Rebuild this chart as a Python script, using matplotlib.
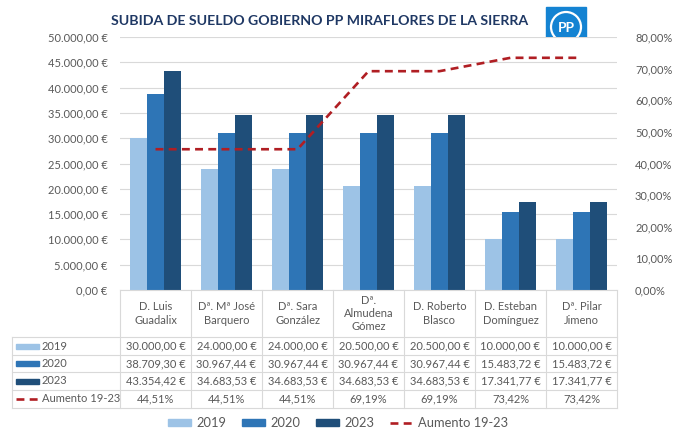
import matplotlib
matplotlib.use("Agg")
import matplotlib.pyplot as plt
import matplotlib.transforms as mtransforms
from matplotlib.patches import Rectangle, Ellipse
from matplotlib.lines import Line2D
import numpy as np

plt.rcParams['font.family'] = ['Lato', 'DejaVu Sans']

categories = ["D. Luis\nGuadalix", "Dª. Mª José\nBarquero", "Dª. Sara\nGonzález",
              "Dª.\nAlmudena\nGómez", "D. Roberto\nBlasco", "D. Esteban\nDomínguez",
              "Dª. Pilar\nJimeno"]
s2019 = [30000.00, 24000.00, 24000.00, 20500.00, 20500.00, 10000.00, 10000.00]
s2020 = [38709.30, 30967.44, 30967.44, 30967.44, 30967.44, 15483.72, 15483.72]
s2023 = [43354.42, 34683.53, 34683.53, 34683.53, 34683.53, 17341.77, 17341.77]
aumento = [44.51, 44.51, 44.51, 69.19, 69.19, 73.42, 73.42]
series_names = ["2019", "2020", "2023", "Aumento 19-23"]
title = "SUBIDA DE SUELDO GOBIERNO PP MIRAFLORES DE LA SIERRA"

c2019, c2020, c2023 = "#9DC3E6", "#2E75B6", "#1F4E79"
cline = "#B01E23"
txtc = "#595959"
gridc = "#D9D9D9"
line_lw = 1.9
line_dash = (3.0, 2.0)

W, H = 675, 429
fig = plt.figure(figsize=(W / 100, H / 100), dpi=100)
fig.patch.set_facecolor("white")

def fx(px):
    return px / W

def fy(py):
    return 1 - py / H

ax_l, ax_r, ax_t, ax_b = 120, 617, 37, 290
ax = fig.add_axes([fx(ax_l), fy(ax_b), fx(ax_r - ax_l), (ax_b - ax_t) / H])
ax2 = ax.twinx()

def eur(v):
    s = f"{v:,.2f}"
    s = s.replace(",", "X").replace(".", ",").replace("X", ".")
    return s + " €"

x = np.arange(len(categories))
bw = 0.24
ax.bar(x - bw, s2019, bw, color=c2019, zorder=3)
ax.bar(x, s2020, bw, color=c2020, zorder=3)
ax.bar(x + bw, s2023, bw, color=c2023, zorder=3)
ax.set_xlim(-0.5, len(categories) - 0.5)
ax.set_ylim(0, 50000)
yt = np.arange(0, 50001, 5000)
ax.set_yticks(yt)
ax.set_yticklabels([eur(v) for v in yt])
ax.grid(axis="y", color=gridc, lw=0.8, zorder=0)
ax.set_xticks([])
for sp in ax.spines.values():
    sp.set_visible(False)
ax.tick_params(axis="y", length=0, pad=9, labelsize=8, labelcolor=txtc)

ax2.plot(x, aumento, color=cline, lw=line_lw, dashes=line_dash, zorder=4)
ax2.set_ylim(0, 80)
pt = np.arange(0, 81, 10)
ax2.set_yticks(pt)
ax2.set_yticklabels([f"{v:.2f}%".replace(".", ",") for v in pt])
for sp in ax2.spines.values():
    sp.set_visible(False)
ax2.tick_params(axis="y", length=0, pad=13, labelsize=8, labelcolor=txtc)
ax.set_zorder(1)
ax2.set_zorder(2)
ax2.patch.set_visible(False)

# Data table (x from data coordinates, y in figure pixels)
trans = mtransforms.blended_transform_factory(ax.transData, fig.transFigure)
ftrans = fig.transFigure
rows_y = [290, 337, 355, 372, 390, 408]
lkw = dict(color=gridc, lw=0.8, clip_on=False)
for i in range(len(categories) + 1):
    xv = i - 0.5
    fig.add_artist(Line2D([xv, xv], [fy(rows_y[0]), fy(rows_y[-1])], transform=trans, **lkw))
for j, ry in enumerate(rows_y):
    if j == 0:
        fig.add_artist(Line2D([-0.5, len(categories) - 0.5], [fy(ry), fy(ry)], transform=trans, **lkw))
    else:
        fig.add_artist(Line2D([fx(12), fx(ax_r)], [fy(ry), fy(ry)], transform=ftrans, **lkw))
fig.add_artist(Line2D([fx(12), fx(12)], [fy(rows_y[1]), fy(rows_y[-1])], transform=ftrans, **lkw))

for i, c in enumerate(categories):
    fig.text(i, fy((rows_y[0] + rows_y[1]) / 2), c, transform=trans, ha="center",
             va="center", fontsize=8, color=txtc, linespacing=1.25)

table_rows = [
    [eur(v) for v in s2019],
    [eur(v) for v in s2020],
    [eur(v) for v in s2023],
    [f"{v:.2f}%".replace(".", ",") for v in aumento],
]
for r, vals in enumerate(table_rows):
    yc = fy((rows_y[r + 1] + rows_y[r + 2]) / 2)
    for i, v in enumerate(vals):
        fig.text(i, yc, v, transform=trans, ha="center", va="center", fontsize=8, color=txtc)

key_colors = [c2019, c2020, c2023]
for r in range(4):
    yc_px = (rows_y[r + 1] + rows_y[r + 2]) / 2
    if r < 3:
        fig.add_artist(Rectangle((fx(16), fy(yc_px + 2.5)), fx(23), 5 / H,
                                 transform=ftrans, color=key_colors[r]))
    else:
        fig.add_artist(Line2D([fx(16), fx(39)], [fy(yc_px), fy(yc_px)], transform=ftrans,
                              color=cline, lw=line_lw, dashes=line_dash))
    fig.text(fx(42), fy(yc_px), series_names[r], ha="left", va="center",
             fontsize=8, color=txtc)

# bottom legend
handles = [Rectangle((0, 0), 1, 1, color=c2019), Rectangle((0, 0), 1, 1, color=c2020),
           Rectangle((0, 0), 1, 1, color=c2023),
           Line2D([], [], color=cline, lw=line_lw, dashes=line_dash)]
fig.legend(handles, series_names, loc="center", bbox_to_anchor=(fx(338), fy(423)),
           ncol=4, frameon=False, fontsize=9.3, labelcolor=txtc, handlelength=1.8,
           handleheight=0.55, columnspacing=1.2, handletextpad=0.4,
           borderaxespad=0, borderpad=0)

# title
fig.text(fx(320), fy(21), title, ha="center", va="center", fontsize=10.2,
         fontweight="bold", color="#1F3864")

# logo
fig.add_artist(Rectangle((fx(546), fy(46)), fx(40), 39 / H, transform=ftrans,
                         color="#1483D2"))
fig.add_artist(Ellipse((fx(566), fy(27)), fx(30), 30 / H, transform=ftrans, fill=False,
                       edgecolor="white", lw=1.6))
fig.text(fx(566), fy(28), "PP", ha="center", va="center", fontsize=10,
         fontweight="bold", color="white")

fig.savefig("out.png", dpi=100)
